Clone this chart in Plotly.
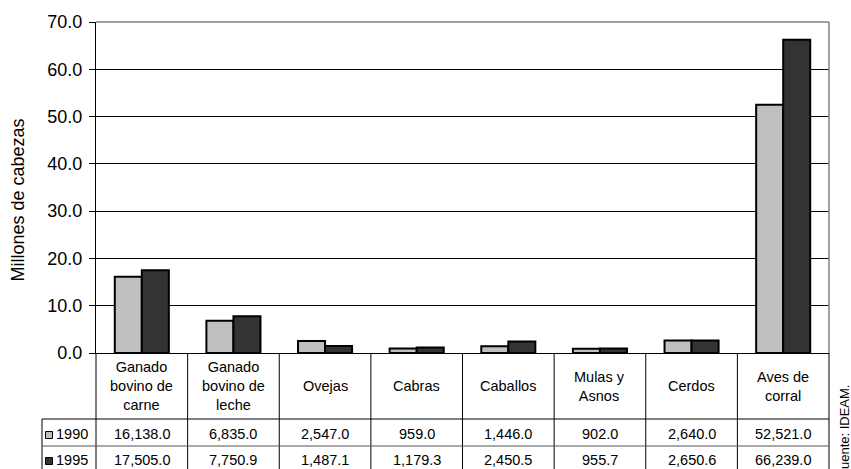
import plotly.graph_objects as go

# Livestock inventory (thousands of head)
categories = ["Ganado<br>bovino de<br>carne", "Ganado<br>bovino de<br>leche", "Ovejas", "Cabras",
              "Caballos", "Mulas y<br>Asnos", "Cerdos", "Aves de<br>corral"]
cat_keys = ["bov_carne", "bov_leche", "ovejas", "cabras", "caballos", "mulas", "cerdos", "aves"]
years = ["1990", "1995"]
values_1990 = [16138.0, 6835.0, 2547.0, 959.0, 1446.0, 902.0, 2640.0, 52521.0]
values_1995 = [17505.0, 7750.9, 1487.1, 1179.3, 2450.5, 955.7, 2650.6, 66239.0]
y_ticks = [0, 10, 20, 30, 40, 50, 60, 70]

colors = {"1990": "#C0C0C0", "1995": "#333333"}
FONT = "Liberation Sans, Arial, sans-serif"

W, H = 851, 469
PL, PR, PT, PB = 96, 829, 22, 353


def ypap(p):
    return (PB - p) / (PB - PT)


def xpap(p):
    return (p - PL) / (PR - PL)


fig = go.Figure()
for yr, vals in zip(years, [values_1990, values_1995]):
    fig.add_trace(go.Bar(
        x=cat_keys, y=[v / 1000 for v in vals], name=yr,
        marker=dict(color=colors[yr], line=dict(color="black", width=2)),
    ))

shapes = []
# gray top / right frame of the plot area
shapes.append(dict(type="line", xref="paper", yref="paper", x0=0, x1=1, y0=1, y1=1,
                   line=dict(color="#808080", width=1.5), layer="above"))
shapes.append(dict(type="line", xref="paper", yref="paper", x0=1, x1=1, y0=0, y1=1,
                   line=dict(color="#808080", width=1.5), layer="above"))

# data table grid
n = len(cat_keys)
bottom = ypap(480)
for k in range(n + 1):
    shapes.append(dict(type="line", xref="paper", yref="paper", x0=k / n, x1=k / n,
                       y0=0, y1=bottom, line=dict(color="black", width=1)))
shapes.append(dict(type="line", xref="paper", yref="paper", x0=xpap(42), x1=xpap(42),
                   y0=ypap(419), y1=bottom, line=dict(color="black", width=1)))
shapes.append(dict(type="line", xref="paper", yref="paper", x0=xpap(42), x1=1,
                   y0=ypap(419), y1=ypap(419), line=dict(color="black", width=1)))
shapes.append(dict(type="line", xref="paper", yref="paper", x0=xpap(42), x1=1,
                   y0=ypap(446), y1=ypap(446), line=dict(color="#555555", width=1)))

# legend keys inside the table
for yr, yc in zip(years, [435, 461]):
    shapes.append(dict(type="rect", xref="paper", yref="paper",
                       x0=xpap(45.5), x1=xpap(52.5), y0=ypap(yc - 3.5), y1=ypap(yc + 3.5),
                       fillcolor=colors[yr], line=dict(color="black", width=1)))

annotations = []
TF = 14.5
for key, lab in zip(cat_keys, categories):
    annotations.append(dict(x=key, xref="x", y=ypap(386), yref="paper", text=lab,
                            showarrow=False, xanchor="center", yanchor="middle",
                            font=dict(family=FONT, size=TF, color="black")))
for yr, vals, yc in zip(years, [values_1990, values_1995], [434.5, 460.5]):
    for key, v in zip(cat_keys, vals):
        annotations.append(dict(x=key, xref="x", y=ypap(yc), yref="paper",
                                text=f"{v:,.1f}", showarrow=False,
                                xanchor="center", yanchor="middle",
                                font=dict(family=FONT, size=TF, color="black")))
    annotations.append(dict(x=xpap(54), xref="paper", y=ypap(yc), yref="paper", text=yr,
                            showarrow=False, xanchor="left", yanchor="middle",
                            font=dict(family=FONT, size=TF, color="black")))

annotations.append(dict(x=xpap(17.5), xref="paper", y=ypap(200), yref="paper",
                        text="Millones de cabezas", textangle=-90, showarrow=False,
                        xanchor="center", yanchor="middle",
                        font=dict(family=FONT, size=18, color="black")))
annotations.append(dict(x=xpap(844), xref="paper", y=ypap(431), yref="paper",
                        text="Fuente: IDEAM.", textangle=-90, showarrow=False,
                        xanchor="center", yanchor="middle",
                        font=dict(family=FONT, size=13, color="black")))

fig.update_layout(
    width=W, height=H,
    margin=dict(l=PL, r=W - PR, t=PT, b=H - PB, pad=0),
    paper_bgcolor="white", plot_bgcolor="white",
    barmode="group", bargap=0.41, bargroupgap=0,
    showlegend=False,
    shapes=shapes, annotations=annotations,
    font=dict(family=FONT, color="black"),
    xaxis=dict(type="category", showticklabels=False, ticks="", showgrid=False,
               showline=True, linecolor="black", linewidth=1, range=[-0.5, n - 0.5]),
    yaxis=dict(range=[0, 70], tickvals=y_ticks, tickformat=".1f",
               showgrid=True, gridcolor="black", gridwidth=1, zeroline=False,
               showline=True, linecolor="black", linewidth=1,
               ticks="outside", ticklen=6, tickcolor="black", tickwidth=1,
               ticklabelstandoff=3,
               tickfont=dict(family=FONT, size=18, color="black")),
)

fig.write_html("out.html")
